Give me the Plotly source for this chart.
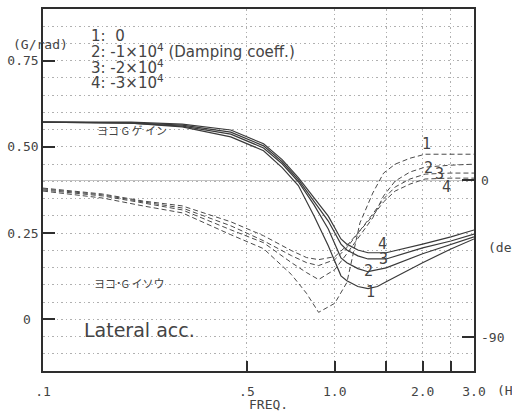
import math
import plotly.graph_objects as go

# ---- data ----
freq_mag = [0.1, 0.2, 0.3, 0.44, 0.57, 0.66, 0.75, 0.85, 0.95, 1.05, 1.1, 1.2, 1.3, 1.4, 1.5, 2.0, 2.5, 3.0]
gain_1 = [0.572, 0.569, 0.558, 0.529, 0.489, 0.440, 0.388, 0.299, 0.213, 0.126, 0.112, 0.095, 0.089, 0.095, 0.109, 0.164, 0.204, 0.233]
gain_2 = [0.572, 0.569, 0.560, 0.537, 0.497, 0.451, 0.399, 0.331, 0.262, 0.178, 0.164, 0.147, 0.138, 0.144, 0.149, 0.190, 0.216, 0.239]
gain_3 = [0.572, 0.570, 0.563, 0.543, 0.503, 0.457, 0.405, 0.342, 0.285, 0.218, 0.201, 0.184, 0.175, 0.175, 0.175, 0.207, 0.227, 0.247]
gain_4 = [0.572, 0.572, 0.566, 0.549, 0.509, 0.463, 0.411, 0.351, 0.299, 0.233, 0.218, 0.201, 0.193, 0.193, 0.193, 0.218, 0.239, 0.259]

freq_ph = [0.1, 0.16, 0.22, 0.3, 0.44, 0.57, 0.71, 0.8, 0.88, 1.0, 1.1, 1.22, 1.35, 1.47, 1.61, 1.81, 2.04, 2.48, 3.0]
phase_1 = [-6.3, -10.3, -14.8, -18.8, -31.3, -39.3, -54.1, -64.9, -75.8, -70.6, -58.7, -24.5, -7.4, 4.0, 9.1, 12.5, 14.8, 14.8, 14.8]
phase_2 = [-5.7, -9.1, -13.1, -17.1, -28.5, -35.9, -47.3, -53.0, -57.0, -51.3, -42.2, -31.9, -21.6, -9.1, -0.6, 4.6, 7.4, 8.5, 9.1]
phase_3 = [-5.1, -8.5, -12.5, -16.0, -26.2, -34.8, -43.3, -47.3, -49.0, -45.6, -38.7, -29.0, -19.4, -10.8, -4.0, 0.6, 3.4, 4.0, 4.0]
phase_4 = [-4.6, -8.0, -12.0, -14.8, -23.9, -31.9, -40.4, -44.4, -45.6, -43.9, -37.6, -29.0, -20.5, -12.5, -6.3, -2.3, 0.6, 1.1, 1.1]

x_tickvals = [0.1, 0.5, 1.0, 2.0, 3.0]
x_ticktext = [".1", ".5", "1.0", "2.0", "3.0"]
y_tickvals = [0, 0.25, 0.5, 0.75]
y_ticktext = ["0\u00a0", "0.25", "0.50", "0.75"]
y2_tickvals = [0, -90]
y2_ticktext = ["0", "-90"]

legend_lines = ["1:  0", "2: -1×10<sup>4</sup> (Damping coeff.)", "3: -2×10<sup>4</sup>", "4: -3×10<sup>4</sup>"]

INK = "#2e2e2e"
TXT = "#444444"
GRID = "#b0b0b0"
GDASH = "1.5px,3px"
MONO = "DejaVu Sans Mono"
SANS = "DejaVu Sans"
CJK = "Noto Sans CJK JP"

# plot-area pixel box
L, R, T, B = 40, 474, 7, 371

fig = go.Figure()
for g in [gain_1, gain_2, gain_3, gain_4]:
    fig.add_trace(go.Scatter(x=freq_mag, y=g, mode="lines",
                             line=dict(color="#3a3a3a", width=1.2), showlegend=False))
for p in [phase_1, phase_2, phase_3, phase_4]:
    fig.add_trace(go.Scatter(x=freq_ph, y=p, mode="lines", yaxis="y2",
                             line=dict(color="#4a4a4a", width=1, dash="5px,3px"), showlegend=False))

fig.update_layout(
    width=512, height=415,
    margin=dict(l=L, r=512 - R, t=T, b=415 - B),
    paper_bgcolor="white", plot_bgcolor="white",
    font=dict(family=MONO, size=13, color=TXT),
    xaxis=dict(type="log", range=[-1, 0.47712], tickvals=x_tickvals, ticktext=x_ticktext,
               ticks="inside", ticklen=10, tickcolor=INK, tickwidth=1.5,
               showgrid=True, gridcolor=GRID, griddash=GDASH,
               minor=dict(tickvals=[1.5, 2.5], ticks="inside", ticklen=10, tickcolor=INK, tickwidth=1.5,
                          showgrid=True, gridcolor=GRID, griddash=GDASH),
               showline=True, linecolor=INK, linewidth=1.5, mirror=True, zeroline=False,
               ticklabelstandoff=8,
               tickfont=dict(family=MONO, size=13, color=TXT)),
    yaxis=dict(range=[-0.15, 0.9], tickvals=y_tickvals, ticktext=y_ticktext,
               ticks="inside", ticklen=12, tickcolor=INK, tickwidth=1.5,
               showgrid=True, gridcolor=GRID, griddash=GDASH,
               minor=dict(dtick=0.05, tick0=0, showgrid=True, gridcolor=GRID, griddash=GDASH),
               showline=True, linecolor=INK, linewidth=1.5, mirror=True, zeroline=False,
               tickfont=dict(family=MONO, size=13, color=TXT)),
    yaxis2=dict(range=[-109.4, 98.0], overlaying="y", side="right", anchor="x",
                tickvals=y2_tickvals, ticktext=y2_ticktext, ticks="inside", ticklen=12,
                tickcolor=INK, tickwidth=1.5,
                showgrid=False, zeroline=True, zerolinecolor="#c4c4c4", zerolinewidth=1,
                showline=False, ticklabelstandoff=6,
                tickfont=dict(family=MONO, size=13, color=TXT)),
)

def px(xp):
    return (xp - L) / (R - L)

def py(yp):
    return (B - yp) / (B - T)

ann = []
ann.append(dict(text="(G/rad)", x=8, y=43))
for i, t in enumerate(legend_lines):
    ann.append(dict(text=t, x=86, y=34 + i * 15.5, font=dict(family=SANS, size=15, color=TXT)))
ann.append(dict(text="(deg)", x=486, y=247))
ann.append(dict(text="(Hz)", x=495, y=391))
ann.append(dict(text="FREQ.", x=245, y=405))
ann.append(dict(text="Lateral acc.", x=79, y=330, font=dict(family=SANS, size=19, color=TXT)))
ann.append(dict(text="ヨコ G ゲ イン", x=92, y=129, font=dict(family=CJK, size=11, color=TXT)))
ann.append(dict(text="ヨコ˙G イソウ", x=89, y=283, font=dict(family=CJK, size=11, color=TXT)))

annotations = []
for a in ann:
    annotations.append(dict(text=a["text"], x=px(a["x"]), y=py(a["y"]), xref="paper", yref="paper",
                            xanchor="left", yanchor="middle", showarrow=False,
                            font=a.get("font", dict(family=MONO, size=13, color=TXT))))

# curve number labels (data coords)
num_labels = [
    ("1", 2.07, 0.508), ("2", 2.09, 0.438), ("3", 2.29, 0.421), ("4", 2.42, 0.384),
    ("4", 1.456, 0.219), ("3", 1.468, 0.176), ("2", 1.305, 0.141), ("1", 1.326, 0.078),
]
for t, fx, vy in num_labels:
    annotations.append(dict(text=t, x=math.log10(fx), y=vy, xref="x", yref="y",
                            showarrow=False, font=dict(family=MONO, size=15, color=TXT)))

fig.update_layout(annotations=annotations)
fig.write_html("out.html")
